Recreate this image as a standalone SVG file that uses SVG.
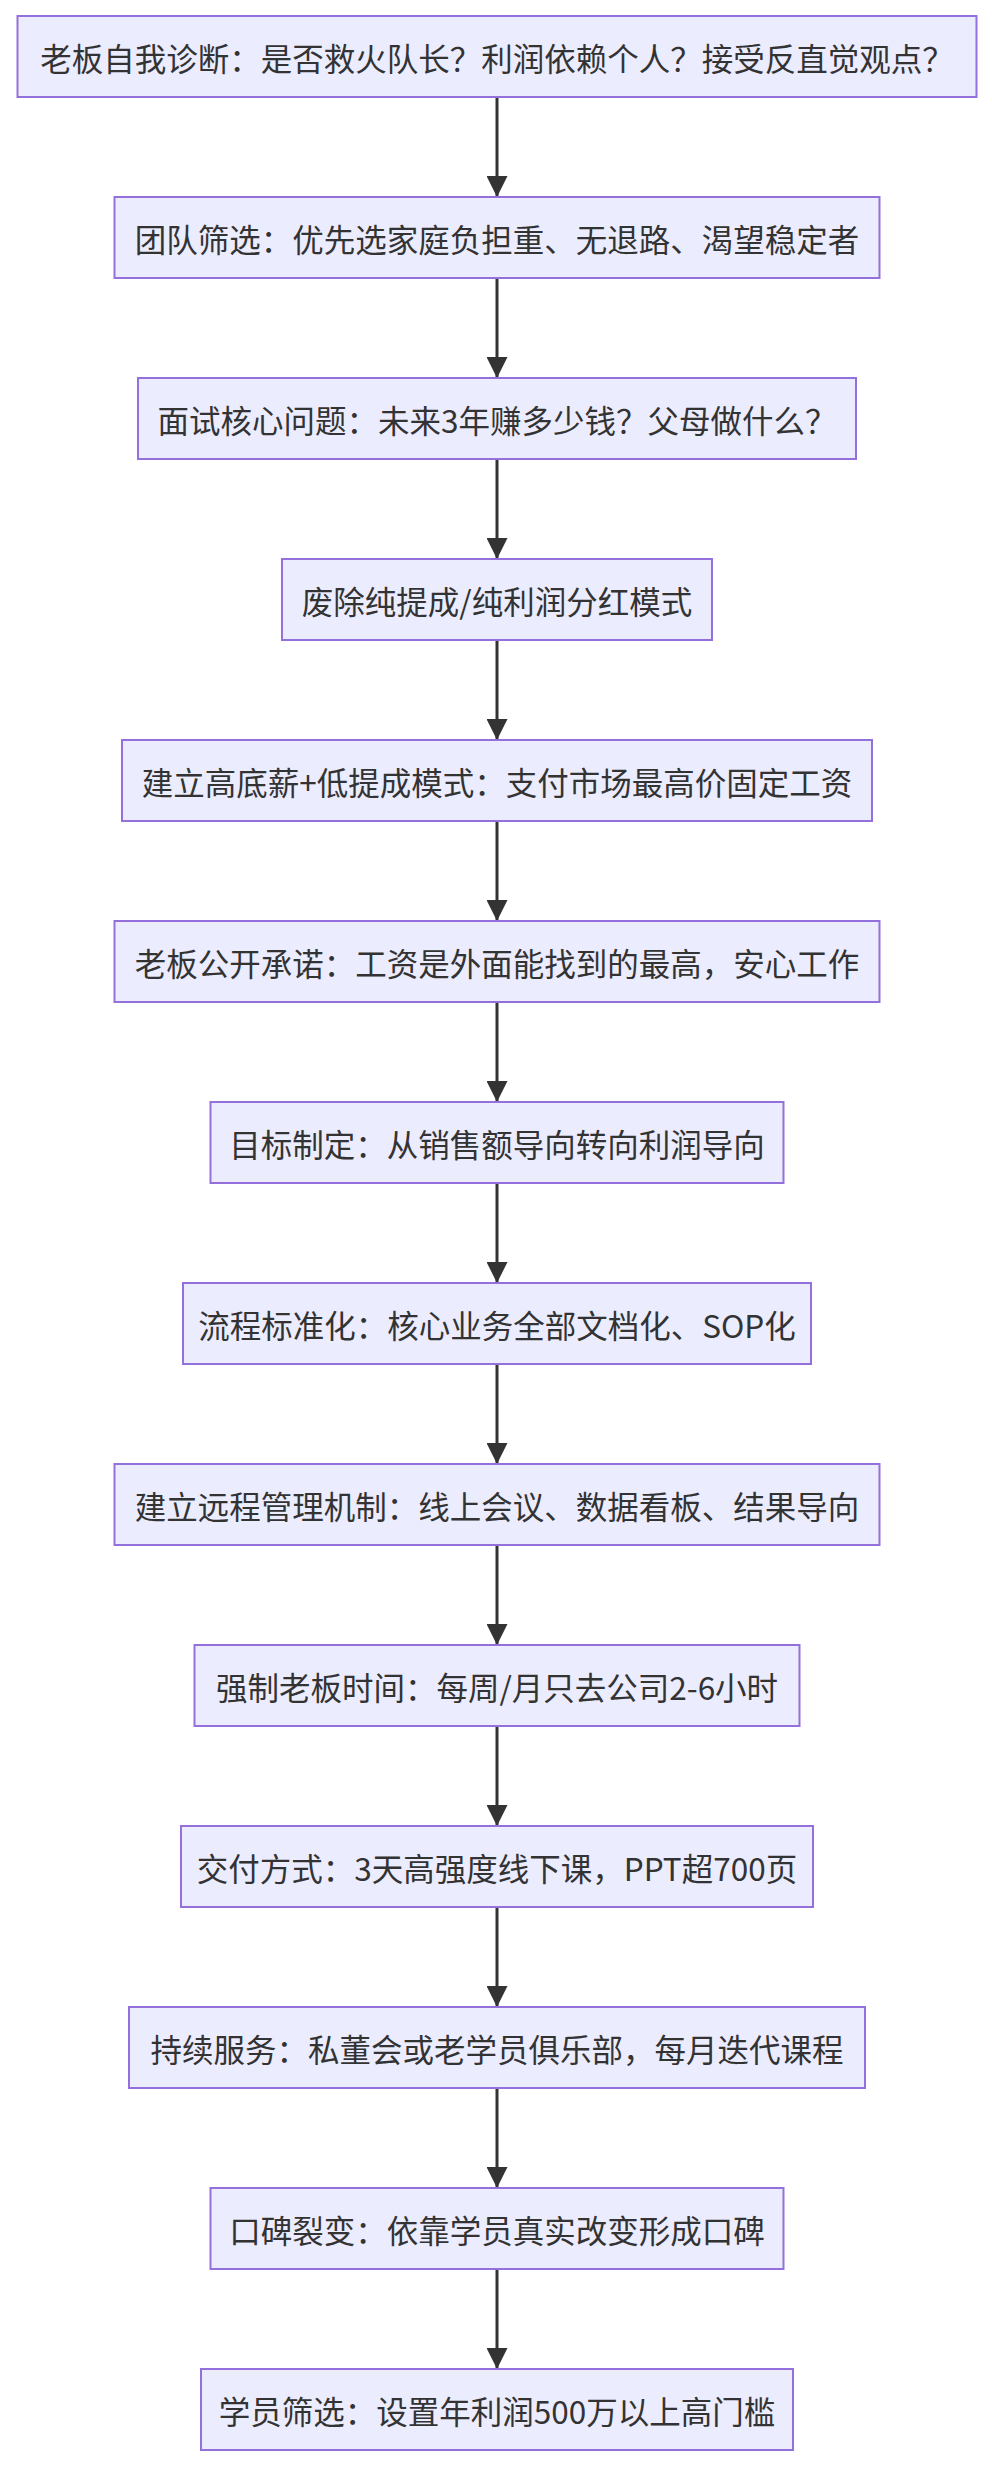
<svg xmlns="http://www.w3.org/2000/svg" width="992" height="2470" viewBox="0 0 992 2470">
<style>
rect{fill:#ECECFF;stroke:#9370DB;stroke-width:2}
text{font-family:"Noto Sans CJK SC","Liberation Sans",sans-serif;font-size:31.5px;fill:#333;text-anchor:middle;dominant-baseline:central}
.e{stroke:#333;stroke-width:3;fill:none;marker-end:url(#a)}
</style>
<defs><marker id="a" viewBox="0 0 10 10" refX="10" refY="5" markerWidth="7" markerHeight="7" markerUnits="strokeWidth" orient="auto"><path d="M0,0L10,5L0,10z" fill="#333"/></marker></defs>
<rect width="992" height="2470" style="stroke:none;fill:#fff"/>
<g id="edges">
<path class="e" d="M497,97V197"/><path class="e" d="M497,278V378"/><path class="e" d="M497,459V559"/><path class="e" d="M497,640V740"/><path class="e" d="M497,821V921"/><path class="e" d="M497,1002V1102"/><path class="e" d="M497,1183V1283"/><path class="e" d="M497,1364V1464"/><path class="e" d="M497,1545V1645"/><path class="e" d="M497,1726V1826"/><path class="e" d="M497,1907V2007"/><path class="e" d="M497,2088V2188"/><path class="e" d="M497,2269V2369"/>
</g>
<g id="n1"><rect x="17.5" y="16" width="959" height="81"/><text x="497" y="56.5">老板自我诊断：是否救火队长？利润依赖个人？接受反直觉观点？</text></g>
<g id="n2"><rect x="114.5" y="197" width="765" height="81"/><text x="497" y="237.5">团队筛选：优先选家庭负担重、无退路、渴望稳定者</text></g>
<g id="n3"><rect x="138" y="378" width="718" height="81"/><text x="497" y="418.5">面试核心问题：未来3年赚多少钱？父母做什么？</text></g>
<g id="n4"><rect x="282" y="559" width="430" height="81"/><text x="497" y="599.5">废除纯提成/纯利润分红模式</text></g>
<g id="n5"><rect x="122" y="740" width="750" height="81"/><text x="497" y="780.5">建立高底薪+低提成模式：支付市场最高价固定工资</text></g>
<g id="n6"><rect x="114.5" y="921" width="765" height="81"/><text x="497" y="961.5">老板公开承诺：工资是外面能找到的最高，安心工作</text></g>
<g id="n7"><rect x="210.5" y="1102" width="573" height="81"/><text x="497" y="1142.5">目标制定：从销售额导向转向利润导向</text></g>
<g id="n8"><rect x="183" y="1283" width="628" height="81"/><text x="497" y="1323.5">流程标准化：核心业务全部文档化、SOP化</text></g>
<g id="n9"><rect x="114.5" y="1464" width="765" height="81"/><text x="497" y="1504.5">建立远程管理机制：线上会议、数据看板、结果导向</text></g>
<g id="n10"><rect x="194.5" y="1645" width="605" height="81"/><text x="497" y="1685.5">强制老板时间：每周/月只去公司2-6小时</text></g>
<g id="n11"><rect x="181" y="1826" width="632" height="81"/><text x="497" y="1866.5">交付方式：3天高强度线下课，PPT超700页</text></g>
<g id="n12"><rect x="129" y="2007" width="736" height="81"/><text x="497" y="2047.5">持续服务：私董会或老学员俱乐部，每月迭代课程</text></g>
<g id="n13"><rect x="210.5" y="2188" width="573" height="81"/><text x="497" y="2228.5">口碑裂变：依靠学员真实改变形成口碑</text></g>
<g id="n14"><rect x="201" y="2369" width="592" height="81"/><text x="497" y="2409.5">学员筛选：设置年利润500万以上高门槛</text></g>
</svg>
